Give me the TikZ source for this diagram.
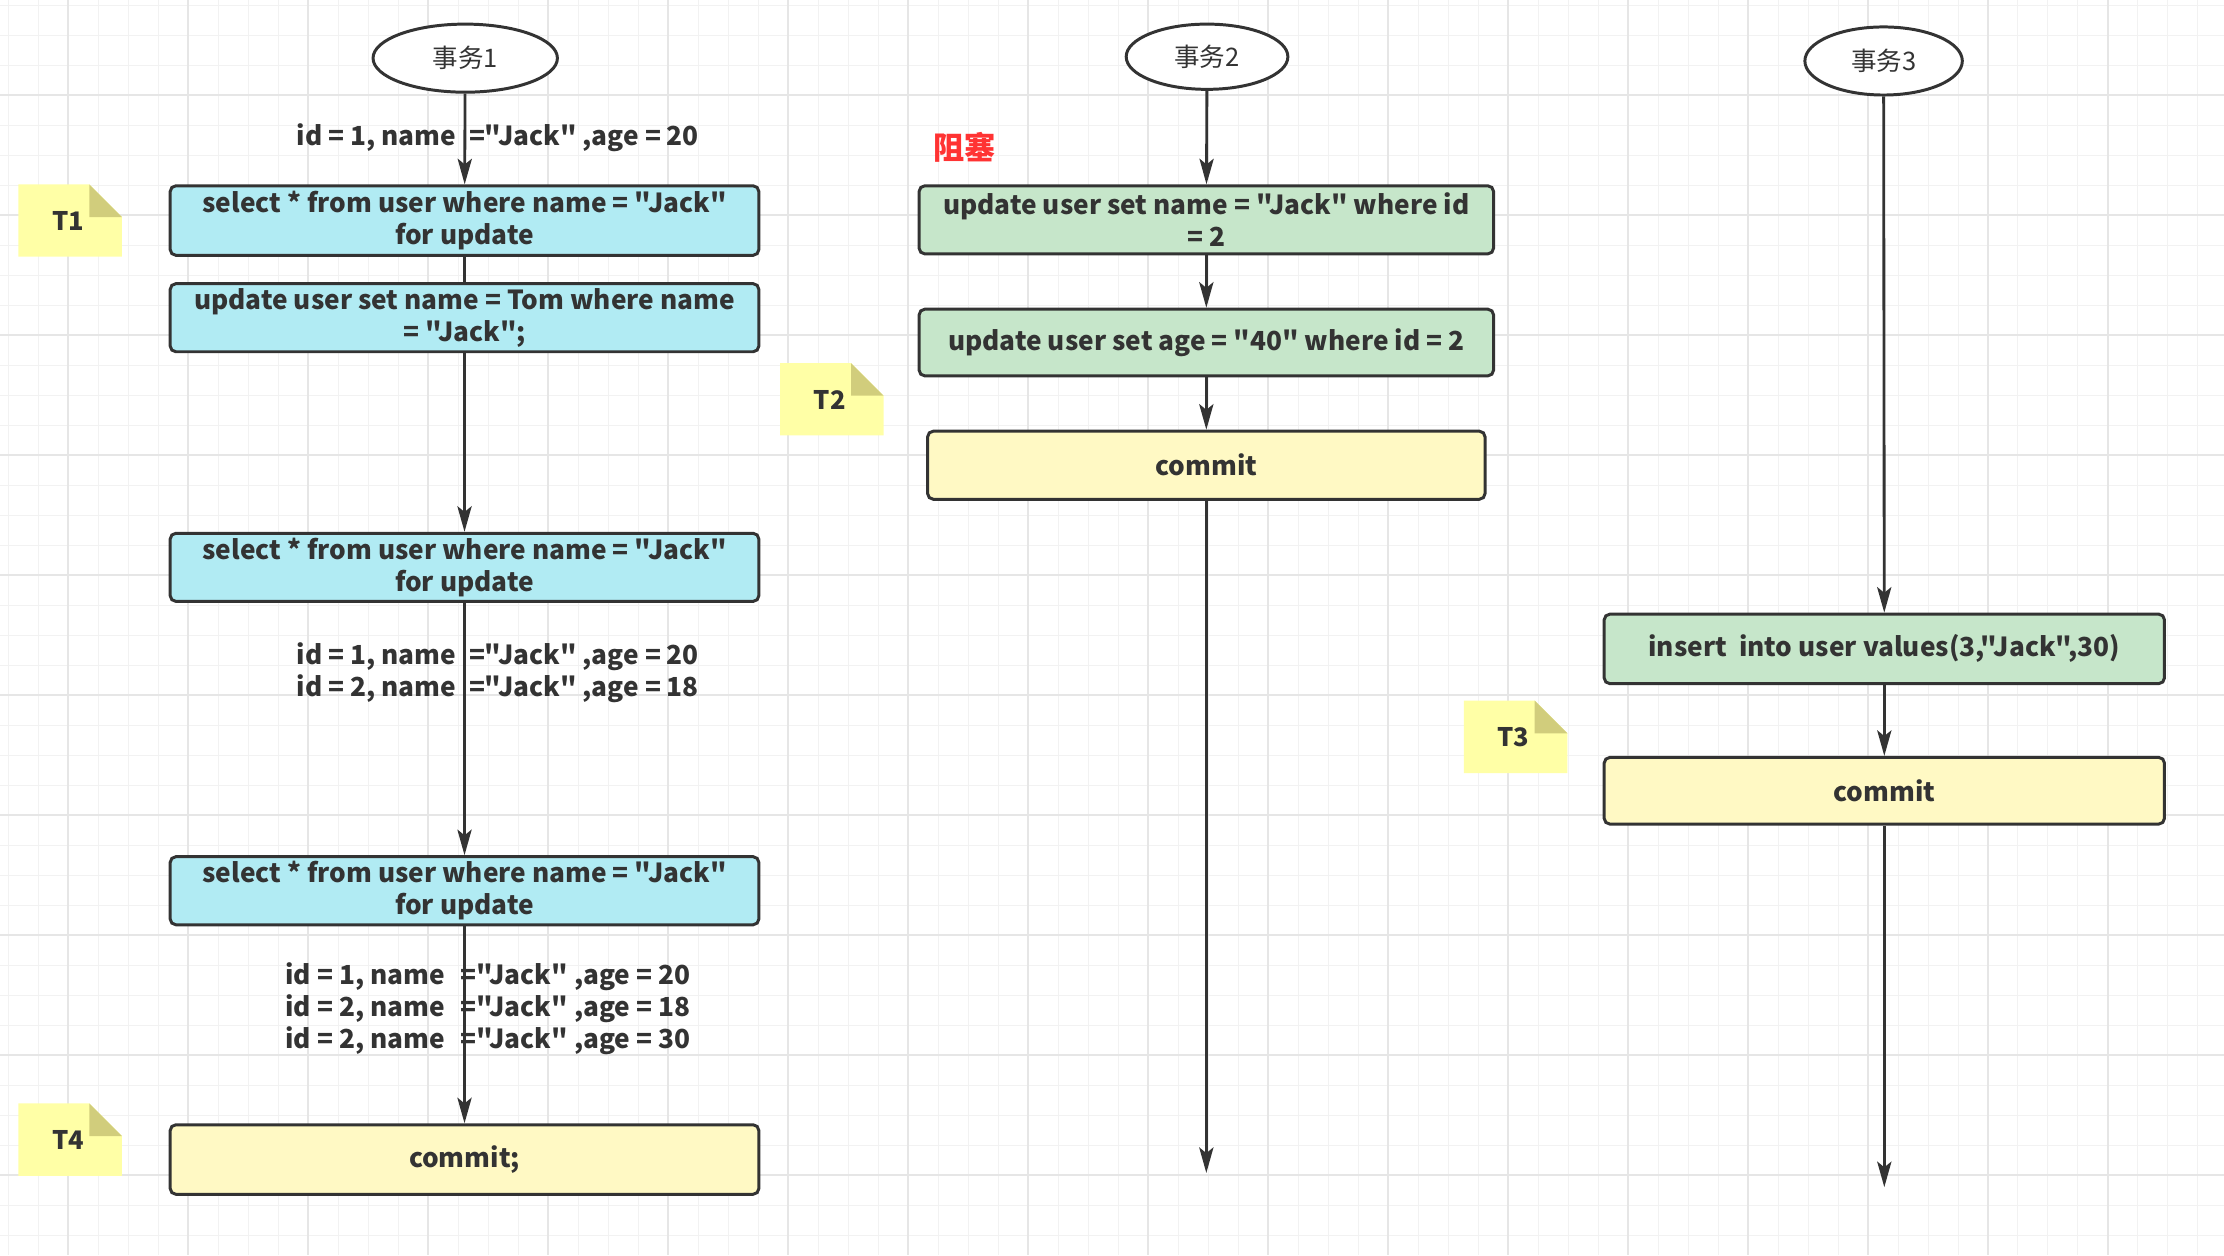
\documentclass[tikz,border=0pt]{standalone}
\usepackage{fontspec}
\newfontfamily\cjkfont{Noto Sans CJK SC}
\usetikzlibrary{arrows.meta,shapes.geometric,positioning}

\definecolor{linecol}{HTML}{333333}
\definecolor{textcol}{HTML}{333333}
\definecolor{cyanfill}{HTML}{B1EBF3}
\definecolor{greenfill}{HTML}{C6E6CA}
\definecolor{commitfill}{HTML}{FFF9C4}
\definecolor{notefill}{HTML}{FFFFA6}
\definecolor{notefold}{HTML}{D1CD7C}
\definecolor{blockred}{HTML}{FF3333}
\definecolor{gridmin}{HTML}{F2F2F2}
\definecolor{gridmaj}{HTML}{E6E6E6}

\tikzset{
	box/.style={draw=linecol, line width=2.1pt, rounded corners=4pt, align=center, inner sep=0pt,
		font=\cjkfont\bfseries\fontsize{18.5}{22.5}\selectfont, text=textcol},
	ell/.style={ellipse, draw=linecol, line width=2.1pt, fill=white, inner sep=0pt,
		font=\cjkfont\fontsize{18}{20}\selectfont, text=textcol},
	flow/.style={draw=linecol, line width=2pt, -{Stealth[length=18pt,width=10pt,inset=4pt]}},
	link/.style={draw=linecol, line width=2pt},
	lbl/.style={font=\cjkfont\bfseries\fontsize{18.5}{22.5}\selectfont, text=textcol, align=left, inner sep=0pt},
	tag/.style={font=\cjkfont\bfseries\fontsize{18}{20}\selectfont, text=textcol, inner sep=0pt},
	gridminor/.style={draw=gridmin, line width=0.6pt},
	gridmajor/.style={draw=gridmaj, line width=1pt}
}

% note with folded corner: top-left x, y, name, text
\newcommand\memo[4]{%
	\fill[notefill] (#1,#2) -- ++(50,0) -- ++(23,23) -- ++(0,28) -- ++(-73,0) -- cycle;
	\fill[notefold] (#1+50,#2) -- ++(0,23) -- ++(23,0) -- cycle;
	\node[tag] (#3) at (#1+35,#2+26) {#4};
}

\begin{document}
\begin{tikzpicture}[x=1pt, y=-1pt]
		%%%%% BACKGROUND %%%%%
		\fill[white] (0,0) rectangle (1568,885);
		\useasboundingbox (0,0) rectangle (1568,885);
		
		\foreach \k in {-2,...,71} \draw[gridminor] ({47.94+21.15*\k},0) -- ++(0,885);
		\foreach \k in {-3,...,38} \draw[gridminor] (0,{66.98+21.15*\k}) -- ++(1568,0);
		\foreach \k in {0,4,...,68} \draw[gridmajor] ({47.94+21.15*\k},0) -- ++(0,885);
		\foreach \k in {-4,0,...,36} \draw[gridmajor] (0,{66.98+21.15*\k}) -- ++(1568,0);
		
		%%%%% TRANSACTION 1 %%%%%
		\node[ell, minimum width=130pt, minimum height=48pt] (e1) at (328,41) {事务1};
		
		\node[box, fill=cyanfill, minimum width=415pt, minimum height=49pt] (sel1) at (327.5,155.5)
			{select * from user where name = "Jack"\\for update};
		\node[box, fill=cyanfill, minimum width=415pt, minimum height=48pt] (upd1) at (327.5,224)
			{update user set name = Tom where name\\= "Jack";};
		\node[box, fill=cyanfill, minimum width=415pt, minimum height=48pt] (sel2) at (327.5,400)
			{select * from user where name = "Jack"\\for update};
		\node[box, fill=cyanfill, minimum width=415pt, minimum height=48pt] (sel3) at (327.5,628)
			{select * from user where name = "Jack"\\for update};
		\node[box, fill=commitfill, minimum width=415pt, minimum height=49pt] (cmt1) at (327.5,817.5)
			{commit;};
		
		\draw[flow] (e1) -- (sel1);
		\draw[link] (sel1) -- (upd1);
		\draw[flow] (upd1) -- (sel2);
		\draw[flow] (sel2) -- (sel3);
		\draw[flow] (sel3) -- (cmt1);
		
		\node[lbl, anchor=west] (res1) at (209,97) {id = 1, name\hspace{9pt}="Jack" ,age = 20};
		\node[lbl, anchor=west] (res2) at (209,474) {id = 1, name\hspace{9pt}="Jack" ,age = 20\\id = 2, name\hspace{9pt}="Jack" ,age = 18};
		\node[lbl, anchor=west] (res3) at (201,711) {id = 1, name\hspace{11pt}="Jack" ,age = 20\\id = 2, name\hspace{11pt}="Jack" ,age = 18\\id = 2, name\hspace{11pt}="Jack" ,age = 30};
		
		%%%%% TRANSACTION 2 %%%%%
		\node[ell, minimum width=114pt, minimum height=46pt] (e2) at (851,40) {事务2};
		\node[font=\cjkfont\bfseries\fontsize{22}{24}\selectfont, text=blockred] (block) at (680,104) {阻塞};
		
		\node[box, fill=greenfill, minimum width=405pt, minimum height=48pt] (upd2) at (850.5,155)
			{update user set name = "Jack" where id\\= 2};
		\node[box, fill=greenfill, minimum width=405pt, minimum height=47pt] (upd3) at (850.5,241.5)
			{update user set age = "40" where id = 2};
		\node[box, fill=commitfill, minimum width=393pt, minimum height=48pt] (cmt2) at (850.5,328)
			{commit};
		\coordinate (end2) at (850.5,827);
		
		\draw[flow] (e2) -- (upd2);
		\draw[flow] (upd2) -- (upd3);
		\draw[flow] (upd3) -- (cmt2);
		\draw[flow] (cmt2) -- (end2);
		
		%%%%% TRANSACTION 3 %%%%%
		\node[ell, minimum width=111pt, minimum height=48pt] (e3) at (1328,43) {事务3};
		
		\node[box, fill=greenfill, minimum width=395pt, minimum height=49pt] (ins) at (1328.5,457.5)
			{insert\ \ into user values(3,"Jack",30)};
		\node[box, fill=commitfill, minimum width=395pt, minimum height=47pt] (cmt3) at (1328.5,557.5)
			{commit};
		\coordinate (end3) at (1328.5,837);
		
		\draw[flow] (e3) -- (ins);
		\draw[flow] (ins) -- (cmt3);
		\draw[flow] (cmt3) -- (end3);
		
		%%%%% NOTES %%%%%
		\memo{13}{130}{t1}{T1}
		\memo{550}{256}{t2}{T2}
		\memo{1032}{494}{t3}{T3}
		\memo{13}{778}{t4}{T4}
		
		%%%%% END %%%%%
\end{tikzpicture}
\end{document}
